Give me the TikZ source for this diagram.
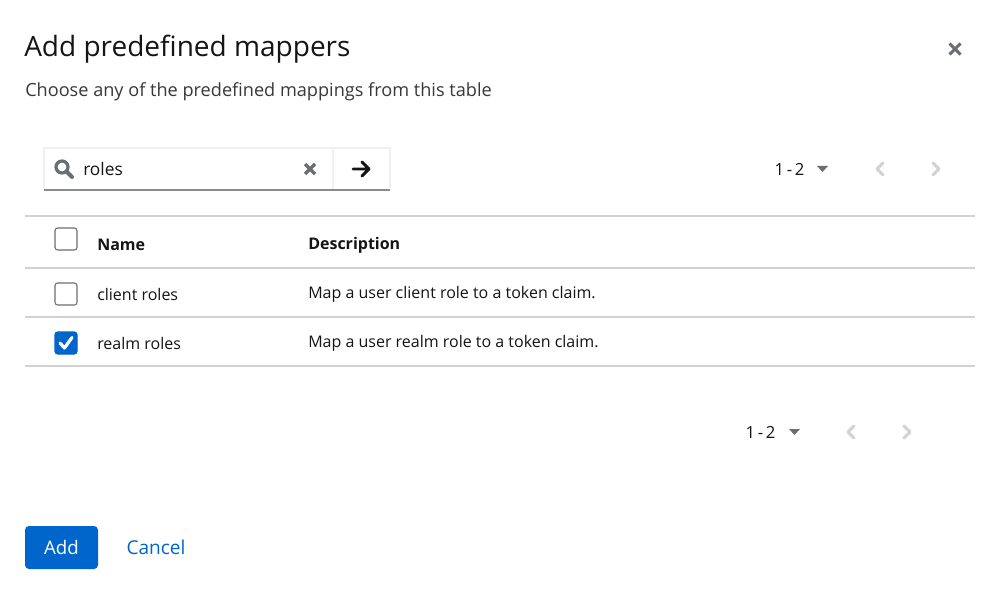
\documentclass[tikz,border=0pt]{standalone}
\usepackage{fontspec}
\setmainfont{Open Sans}
\usetikzlibrary{positioning,calc}
\definecolor{pfblue}{HTML}{0066CC}
\definecolor{pfdark}{HTML}{151515}
\definecolor{pfgray}{HTML}{6A6E73}
\definecolor{pfline}{HTML}{D2D2D2}
\definecolor{pfpale}{HTML}{F0F0F0}
\tikzset{
  txt/.style={inner sep=0pt, anchor=west, text=pfdark, font=\fontsize{12pt}{14pt}\selectfont},
  pager/.style={inner sep=0pt, text=pfdark, font=\fontsize{12.5pt}{14pt}\selectfont},
  chev/.style={pfline, line width=2.2pt, line cap=round, line join=round},
  box/.style={draw=pfgray, line width=0.8pt, rounded corners=2pt, minimum size=16.5pt, inner sep=0pt},
}
\begin{document}
\begin{tikzpicture}[x=0.75pt, y=-0.75pt]
\useasboundingbox[fill=white] (0,0) rectangle (990,592);
% heading
\node[inner sep=0pt, anchor=west, text=pfdark, font=\fontsize{21pt}{24pt}\selectfont] (title) at (24,49) {Add predefined mappers};
\node[inner sep=0pt, anchor=west, text=pfdark!85, font=\fontsize{13.6pt}{16pt}\selectfont] (sub) at (25,91.5) {Choose any of the predefined mappings from this table};
\coordinate (close) at (955,49);
\draw[pfgray, line width=2.2pt] ($(close)+(-5.5,-5.5)$) -- ($(close)+(5.5,5.5)$) ($(close)+(-5.5,5.5)$) -- ($(close)+(5.5,-5.5)$);
% search box
\draw[pfpale, line width=0.8pt] (44,190) -- (44,148) -- (390,148) -- (390,190);
\draw[pfpale, line width=0.8pt] (333,148) -- (333,190);
\draw[pfgray!80, line width=1pt] (44,190) -- (390,190);
\coordinate (lens) at (62,167);
\draw[pfgray, line width=2.4pt] (lens) circle (6);
\draw[pfgray, line width=3pt, line cap=round] ($(lens)+(5,5)$) -- ($(lens)+(10,10)$);
\node[txt, font=\fontsize{13pt}{15pt}\selectfont] (query) at (83,169) {roles};
\coordinate (clear) at (310,169);
\draw[pfgray, line width=2.4pt] ($(clear)+(-5,-5)$) -- ($(clear)+(5,5)$) ($(clear)+(-5,5)$) -- ($(clear)+(5,-5)$);
\coordinate (go) at (361,169);
\draw[pfdark, line width=2.2pt, line cap=round, line join=round] ($(go)+(-8,0)$) -- ($(go)+(8,0)$) ($(go)+(1,-7)$) -- ($(go)+(8,0)$) -- ($(go)+(1,7)$);
% pagination top
\node[pager] (pgtop) at (789.5,169) {1\,-\,2};
\fill[pfgray] (817,166) -- (828,166) -- (822.5,172) -- cycle;
\draw[chev] (883,163) -- (877,169) -- (883,175);
\draw[chev] (933,163) -- (939,169) -- (933,175);
% table
\draw[pfline, line width=0.8pt] (25,216) -- (975,216);
\node[box] (cbhead) at (66,239) {};
\node[txt, font=\fontsize{12pt}{14pt}\selectfont\bfseries] (colname) at (97,245) {Name};
\node[txt, font=\fontsize{12pt}{14pt}\selectfont\bfseries] (coldesc) at (308,245) {Description};
\draw[pfline, line width=0.8pt] (25,268) -- (975,268);
\node[box] (cbclient) at (66,294) {};
\node[txt] (client) at (97,294) {client roles};
\node[txt] (clientdesc) at (308,294) {Map a user client role to a token claim.};
\draw[pfline, line width=0.8pt] (25,317) -- (975,317);
\node[box, draw=pfblue, fill=pfblue] (cbrealm) at (66,343) {};
\draw[white, line width=2.4pt, line cap=round, line join=round] ($(cbrealm)+(-6,0)$) -- ($(cbrealm)+(-1.5,5)$) -- ($(cbrealm)+(6,-5.5)$);
\node[txt] (realm) at (97,343) {realm roles};
\node[txt] (realmdesc) at (308,343) {Map a user realm role to a token claim.};
\draw[pfline, line width=0.8pt] (25,366) -- (975,366);
% pagination bottom
\node[pager] (pgbot) at (760.5,432) {1\,-\,2};
\fill[pfgray] (789,429) -- (800,429) -- (794.5,435) -- cycle;
\draw[chev] (854,426) -- (848,432) -- (854,438);
\draw[chev] (904,426) -- (910,432) -- (904,438);
% actions
\node[fill=pfblue, rounded corners=3pt, inner sep=0pt, minimum width=54.75pt, minimum height=32.25pt, text=white, font=\fontsize{14pt}{16pt}\selectfont] (add) at (61.5,547.5) {Add};
\node[inner sep=0pt, text=pfblue, font=\fontsize{14.3pt}{16pt}\selectfont, right=21pt of add] (cancel) {Cancel};
\end{tikzpicture}
\end{document}
